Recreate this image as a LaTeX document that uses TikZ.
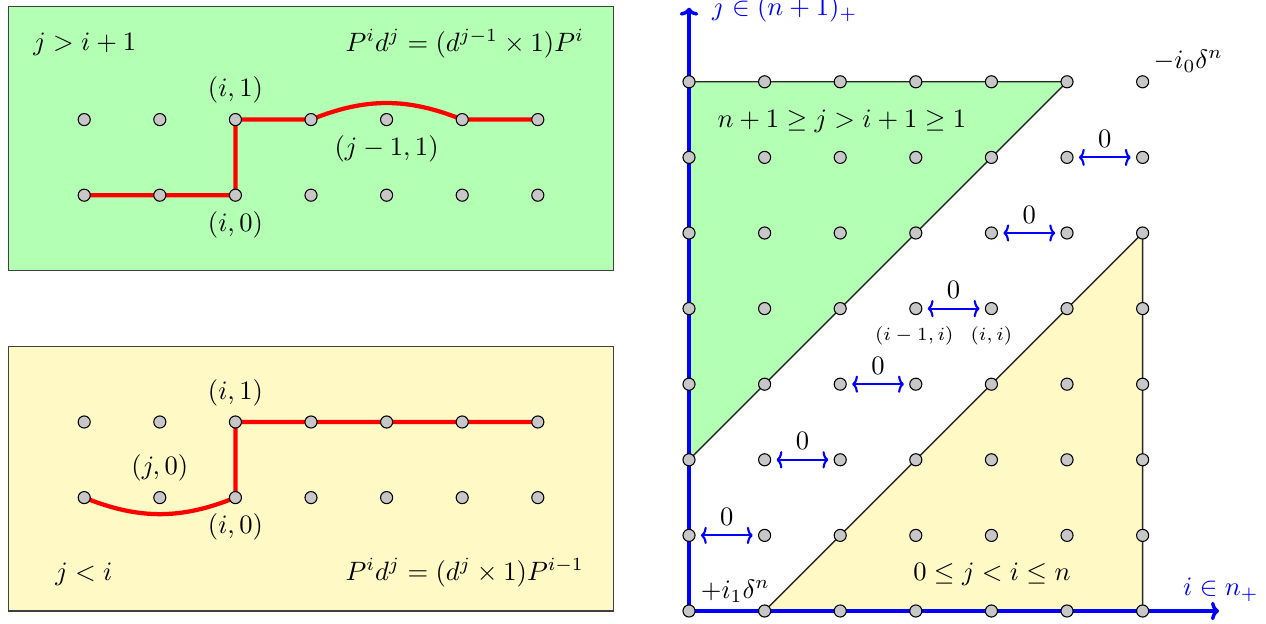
\documentclass[tikz,border=0pt]{standalone}
\usetikzlibrary{arrows.meta}
\pgfdeclarelayer{bg}
\pgfdeclarelayer{mid}
\pgfsetlayers{bg,mid,main}
\definecolor{pgreen}{RGB}{179,255,179}
\definecolor{pyellow}{RGB}{255,249,198}
\begin{document}
\begin{tikzpicture}[
  dot/.style={circle,draw=black,fill=black!22,line width=0.4pt,inner sep=0pt,minimum size=0.16cm},
  redpath/.style={red,line width=1.6pt,line join=round},
  panel/.style={draw=black!75,line width=0.5pt},
  axis/.style={blue,line width=1.3pt,-{To[length=3pt,width=7pt]}},
  zarrow/.style={blue,line width=0.8pt,{To[length=2.2pt,width=6.5pt]}-{To[length=2.2pt,width=6.5pt]},shorten <=2pt,shorten >=2pt},
  zlab/.style={text=black},
  edgeline/.style={draw=black!85,line width=0.5pt},
  lbl/.style={inner sep=0pt},
  small/.style={font=\scriptsize,inner sep=0pt}
]
\useasboundingbox (-9.114,-0.172) rectangle (7.632,8.082);

% ---------- left panels ----------
\begin{pgfonlayer}{bg}
\draw[panel,fill=pgreen] (-9,4.5) rectangle (-1,8);
\draw[panel,fill=pyellow] (-9,0) rectangle (-1,3.5);
\end{pgfonlayer}
\foreach \k in {0,...,6}{
  \node[dot] (A0-\k) at (-8+\k,5.5) {};
  \node[dot] (A1-\k) at (-8+\k,6.5) {};
  \node[dot] (B0-\k) at (-8+\k,1.5) {};
  \node[dot] (B1-\k) at (-8+\k,2.5) {};
}
\begin{pgfonlayer}{mid}
\draw[redpath] (A0-0.center) -- (A0-2.center) -- (A1-2.center) -- (A1-3.center) to[out=22,in=158] (A1-5.center) -- (A1-6.center);
\draw[redpath] (B0-0.center) to[out=-22,in=-158] (B0-2.center) -- (B1-2.center) -- (B1-6.center);
\end{pgfonlayer}
\node[above] (ta1) at (A1-2.north) {$(i,1)$};
\node[below] (ta0) at (A0-2.south) {$(i,0)$};
\node[below] (taj) at (A1-4.south) {$(j-1,1)$};
\node[lbl,anchor=base west] (tcond) at (-8.68,7.42) {$j>i+1$};
\node[lbl,anchor=base west] (teq) at (-4.55,7.40) {$P^id^j=(d^{j-1}\times1)P^i$};

\node[above] (tb1) at (B1-2.north) {$(i,1)$};
\node[above] (tbj) at (B0-1.north) {$(j,0)$};
\node[below] (tb0) at (B0-2.south) {$(i,0)$};
\node[lbl,anchor=base west] (bcond) at (-8.39,0.41) {$j<i$};
\node[lbl,anchor=base west] (beq) at (-4.55,0.41) {$P^id^j=(d^j\times1)P^{i-1}$};

% ---------- right grid ----------
\begin{pgfonlayer}{bg}
\fill[pgreen] (0,7) -- (5,7) -- (0,2) -- cycle;
\fill[pyellow] (1,0) -- (6,0) -- (6,5) -- cycle;
\end{pgfonlayer}
\foreach \i in {0,...,6}{
  \foreach \j in {0,...,7}{
    \node[dot] (g-\i-\j) at (\i,\j) {};
  }
}
\coordinate (ytip) at (0,7.98);
\coordinate (xtip) at (7.01,0);
\begin{pgfonlayer}{mid}
\draw[edgeline] (g-0-7.center) -- (g-5-7.center) -- (g-0-2.center);
\draw[edgeline] (g-1-0.center) -- (g-6-5.center) -- (g-6-0.center);
\draw[axis] (g-0-0.center) -- (ytip);
\draw[axis] (g-0-0.center) -- (xtip);
\end{pgfonlayer}
\foreach \a [evaluate=\a as \b using int(\a+1)] in {0,...,5}{
  \draw[zarrow] (g-\a-\b) -- node[above,zlab] (z\a) {$0$} (g-\b-\b);
}
\node[lbl,anchor=base west,text=blue] (ylab) at (0.3,7.88) {$j\in(n+1)_+$};
\node[lbl,anchor=base west,text=blue] (xlab) at (6.53,0.21) {$i\in n_+$};
\node[lbl,anchor=base west] (mlab) at (6.14,7.18) {$-i_0\delta^n$};
\node[lbl,anchor=base west] (plab) at (0.15,0.17) {$+i_1\delta^n$};
\node[lbl,anchor=base west] (glab) at (0.37,6.40) {$n+1\geq j>i+1\geq 1$};
\node[lbl,anchor=base west] (ylab2) at (2.96,0.41) {$0\leq j<i\leq n$};
\node[small,anchor=base] (s1) at (2.98,3.58) {$(i-1,i)$};
\node[small,anchor=base] (s2) at (4.0,3.58) {$(i,i)$};
\end{tikzpicture}
\end{document}
